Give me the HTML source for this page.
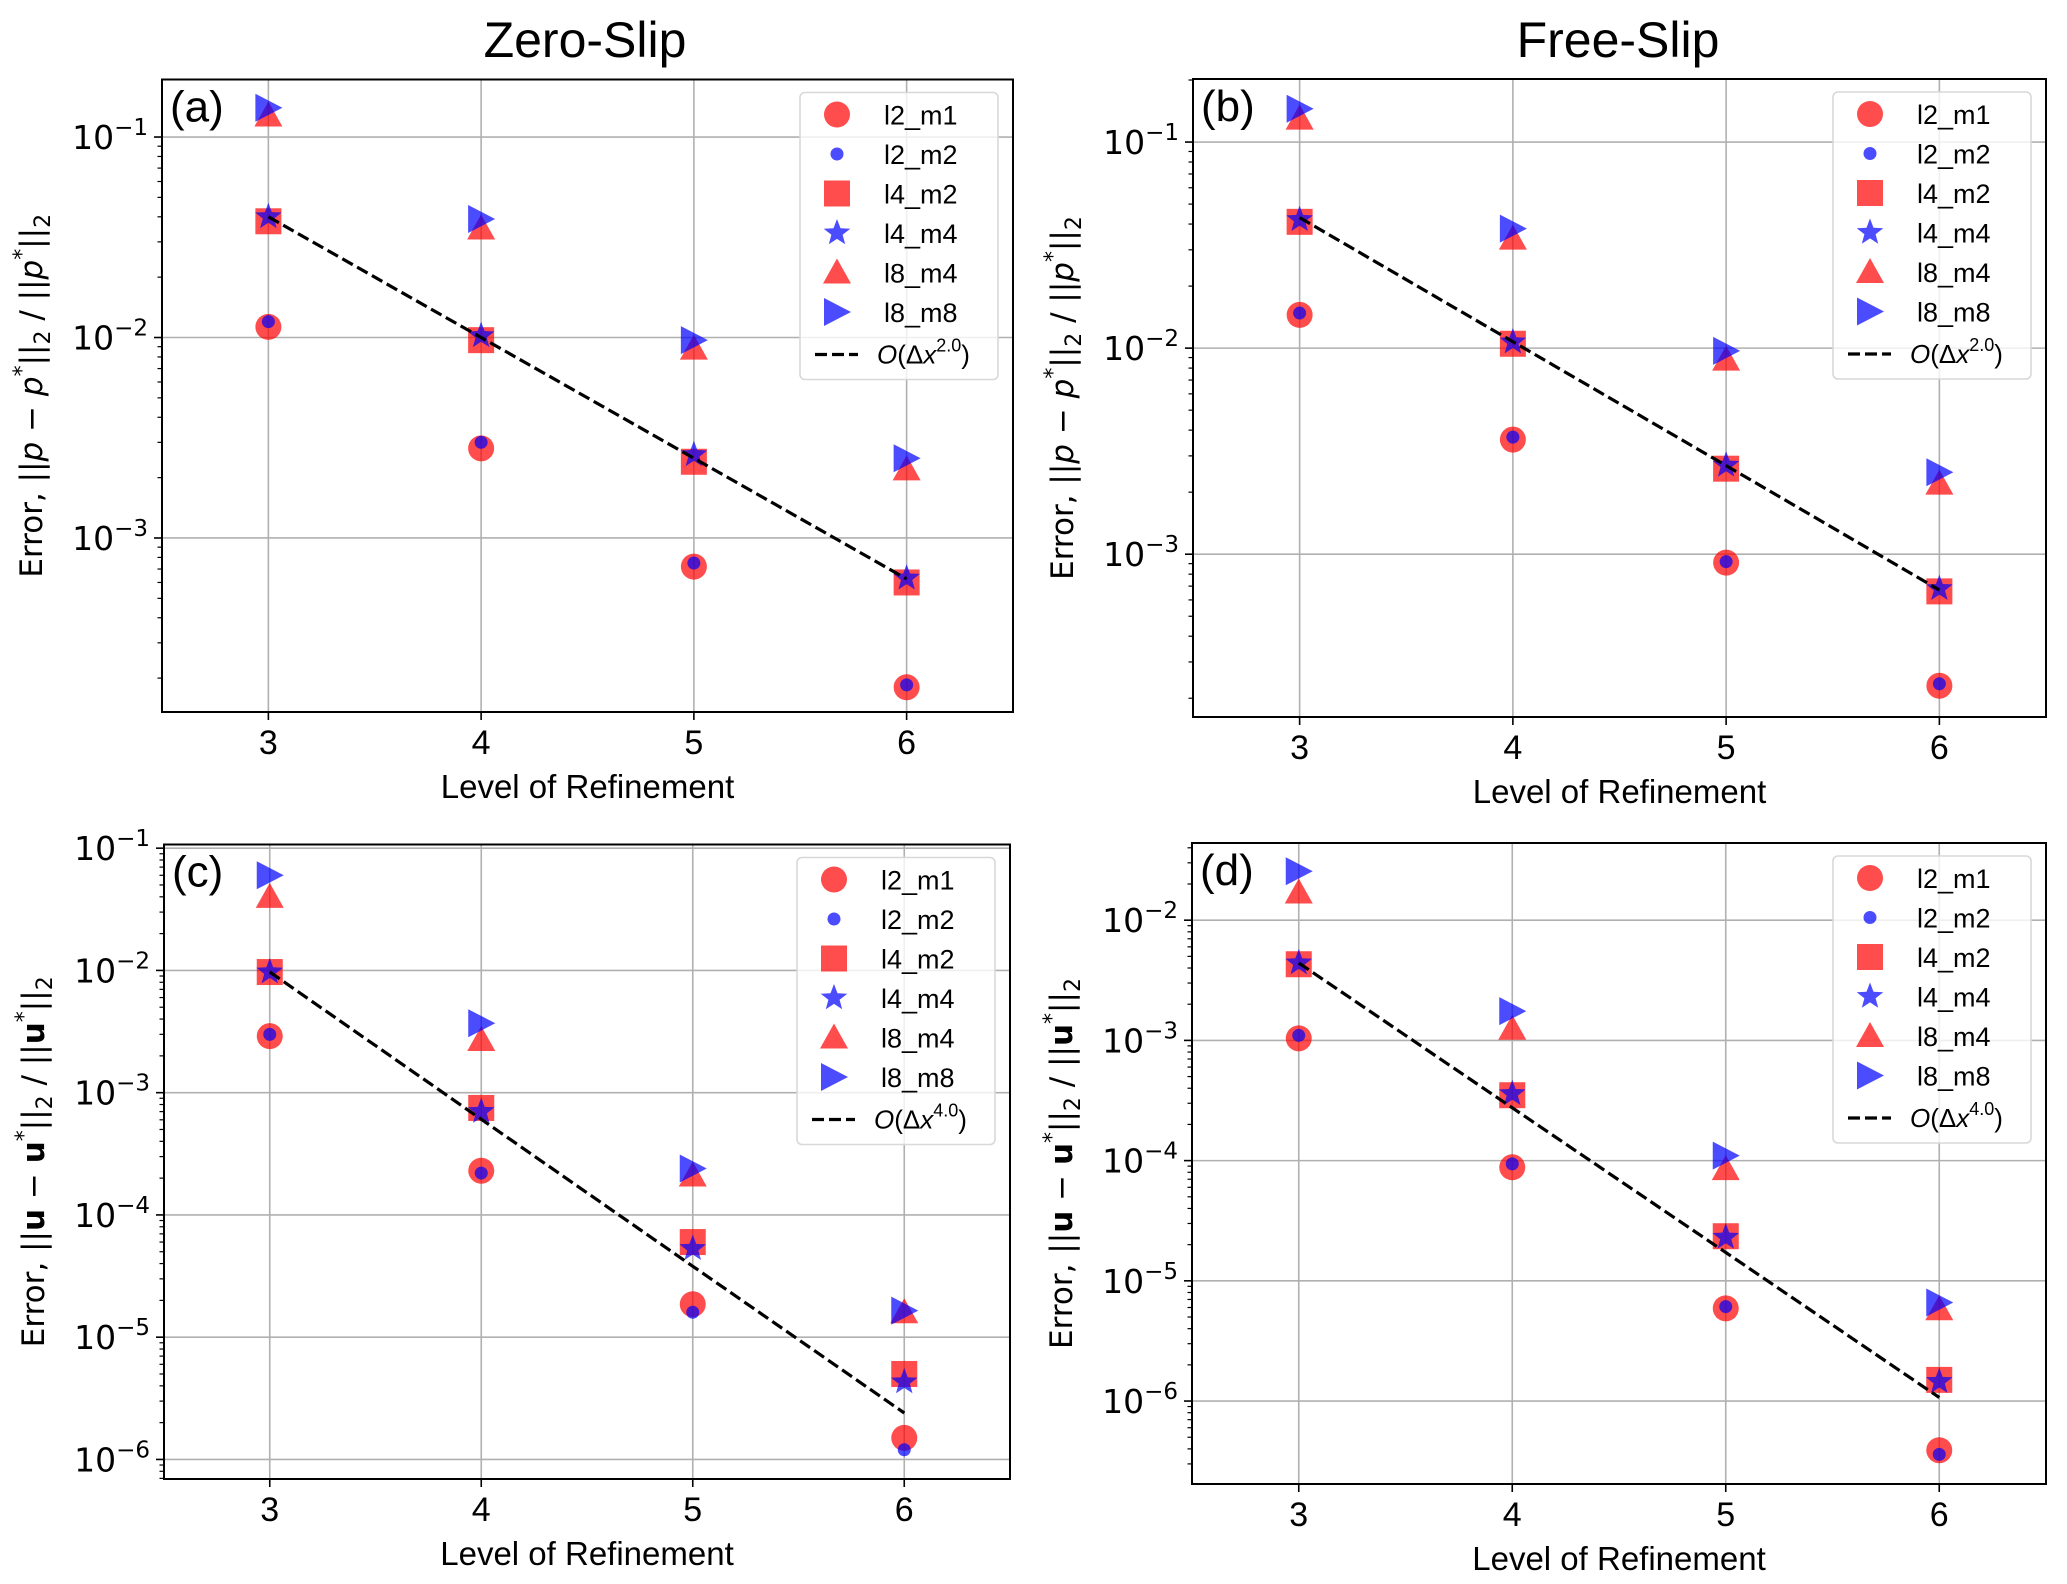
<!DOCTYPE html>
<html><head><meta charset="utf-8"><style>
html,body{margin:0;padding:0;background:#fff;}
svg{display:block;}
</style></head><body>
<svg id="fig" width="2067" height="1584" viewBox="0 0 2067 1584" xmlns="http://www.w3.org/2000/svg">
<text x="585" y="57" font-family="Liberation Sans, sans-serif" font-size="50" text-anchor="middle">Zero-Slip</text>
<text x="1618" y="57" font-family="Liberation Sans, sans-serif" font-size="50" text-anchor="middle">Free-Slip</text>
</svg>
<script>
const levels = [3, 4, 5, 6];
const seriesNames = ["l2_m1","l2_m2","l4_m2","l4_m4","l8_m4","l8_m8"];
// panel (a) zero-slip pressure
const a_l2_m1 = [0.0113, 0.0028, 7.2e-4, 1.8e-4];
const a_l2_m2 = [0.012, 0.003, 7.5e-4, 1.85e-4];
const a_l4_m2 = [0.038, 0.0097, 0.0024, 6.0e-4];
const a_l4_m4 = [0.040, 0.0102, 0.0026, 6.3e-4];
const a_l8_m4 = [0.128, 0.035, 0.0088, 0.0022];
const a_l8_m8 = [0.14, 0.039, 0.0097, 0.0025];
const a_ref = [0.04, 0.01, 0.0025, 6.25e-4];
// panel (b) free-slip pressure
const b_l2_m1 = [0.0145, 0.0036, 9.1e-4, 2.3e-4];
const b_l2_m2 = [0.0148, 0.0037, 9.2e-4, 2.35e-4];
const b_l4_m2 = [0.041, 0.0105, 0.0026, 6.6e-4];
const b_l4_m4 = [0.042, 0.0107, 0.0027, 6.8e-4];
const b_l8_m4 = [0.13, 0.034, 0.0088, 0.0022];
const b_l8_m8 = [0.145, 0.038, 0.0097, 0.0025];
const b_ref = [0.043, 0.01075, 0.00269, 6.7e-4];
// panel (c) zero-slip velocity
const c_l2_m1 = [0.0029, 2.3e-4, 1.86e-5, 1.5e-6];
const c_l2_m2 = [0.003, 2.2e-4, 1.6e-5, 1.2e-6];
const c_l4_m2 = [0.0097, 7.5e-4, 6.0e-5, 5.0e-6];
const c_l4_m4 = [0.0097, 7.0e-4, 5.3e-5, 4.3e-6];
const c_l8_m4 = [0.04, 0.0027, 2.1e-4, 1.6e-5];
const c_l8_m8 = [0.06, 0.0037, 2.4e-4, 1.65e-5];
const c_ref = [0.0097, 6.06e-4, 3.8e-5, 2.4e-6];
// panel (d) free-slip velocity
const d_l2_m1 = [1.04e-3, 8.8e-5, 5.9e-6, 3.9e-7];
const d_l2_m2 = [1.1e-3, 9.4e-5, 6.1e-6, 3.6e-7];
const d_l4_m2 = [4.3e-3, 3.5e-4, 2.35e-5, 1.5e-6];
const d_l4_m4 = [4.4e-3, 3.6e-4, 2.3e-5, 1.45e-6];
const d_l8_m4 = [0.017, 1.25e-3, 8.5e-5, 5.8e-6];
const d_l8_m8 = [0.0255, 1.75e-3, 1.1e-4, 6.6e-6];
const d_ref = [4.4e-3, 2.75e-4, 1.72e-5, 1.07e-6];
const xTickLabels = ["3","4","5","6"];

const NS = "http://www.w3.org/2000/svg";
const svg = document.getElementById('fig');
function mk(tag, attrs, parent){
  const e = document.createElementNS(NS, tag);
  for (const k in attrs) e.setAttribute(k, attrs[k]);
  (parent||svg).appendChild(e);
  return e;
}
const RED = "rgba(255,0,0,0.7)", BLUE = "rgba(0,0,255,0.7)";
function starPts(cx, cy, R){
  const r = R*0.42; let p = [];
  for (let i=0;i<10;i++){
    const ang = -Math.PI/2 + i*Math.PI/5;
    const rr = i%2===0 ? R : r;
    p.push((cx+rr*Math.cos(ang)).toFixed(1)+","+(cy+rr*Math.sin(ang)).toFixed(1));
  }
  return p.join(" ");
}
function marker(kind, cx, cy, g){
  let e;
  if (kind==="l2_m1") e = mk('circle',{cx:cx,cy:cy,r:13,fill:RED},g);
  else if (kind==="l2_m2") e = mk('circle',{cx:cx,cy:cy,r:6.5,fill:BLUE},g);
  else if (kind==="l4_m2") e = mk('rect',{x:cx-13,y:cy-13,width:26,height:26,fill:RED},g);
  else if (kind==="l4_m4") e = mk('polygon',{points:starPts(cx,cy,14),fill:BLUE},g);
  else if (kind==="l8_m4") e = mk('polygon',{points:`${cx},${cy-14} ${cx+14},${cy+11} ${cx-14},${cy+11}`,fill:RED},g);
  else e = mk('polygon',{points:`${cx+14},${cy} ${cx-13},${cy-14} ${cx-13},${cy+14}`,fill:BLUE},g);
  return e;
}

function panel(cfg){
  const g = mk('g',{});
  
  
  const X = v => cfg.L + (v-2.5)/4*(cfg.R-cfg.L);
  const Y = v => cfg.B - (Math.log10(v)-cfg.ymin)/(cfg.ymax-cfg.ymin)*(cfg.B-cfg.T);
  levels.forEach((lv,i)=>{
    const gl = mk('line',{x1:X(lv),x2:X(lv),y1:cfg.T,y2:cfg.B,stroke:"#b0b0b0","stroke-width":1.6},g);
    
    
    const tk = mk('line',{x1:X(lv),x2:X(lv),y1:cfg.B,y2:cfg.B+8,stroke:"#000","stroke-width":1.6},g);
    
    
    const tl = mk('text',{x:X(lv),y:cfg.B+42,"font-family":"Liberation Sans, sans-serif","font-size":34,"text-anchor":"middle"},g);
    tl.textContent = xTickLabels[i];
    
    
  });
  for (let d=Math.floor(cfg.ymin); d<=Math.ceil(cfg.ymax); d++){
    if (d>=cfg.ymin && d<=cfg.ymax){
      const y = Y(Math.pow(10,d));
      const gl = mk('line',{x1:cfg.L,x2:cfg.R,y1:y,y2:y,stroke:"#b0b0b0","stroke-width":1.6},g);
      
      
      const tk = mk('line',{x1:cfg.L-8,x2:cfg.L,y1:y,y2:y,stroke:"#000","stroke-width":1.6},g);
      
      
      const tl = mk('text',{x:cfg.L-14,y:y+12,"font-family":"DejaVu Sans, sans-serif","font-size":33,"text-anchor":"end"},g);
      
      
      tl.appendChild(document.createTextNode("10"));
      const sp = mk('tspan',{dy:-14,"font-size":23},tl);
      sp.textContent = "\u2212"+(-d);
    }
    for (let m=2;m<=9;m++){
      const v = m*Math.pow(10,d), lv = Math.log10(v);
      if (lv>cfg.ymin && lv<cfg.ymax){
        const y = Y(v);
        const mt = mk('line',{x1:cfg.L-4.5,x2:cfg.L,y1:y,y2:y,stroke:"#000","stroke-width":1.2},g);
        
        
      }
    }
  }
  seriesNames.forEach(s=>{
    const vals = cfg.data[s];
    vals.forEach((v,i)=>{
      const m = marker(s, X(levels[i]), Y(v), g);
      
      
    });
  });
  const pts = cfg.ref.map((v,i)=>X(levels[i]).toFixed(1)+","+Y(v).toFixed(1)).join(" ");
  const rl = mk('polyline',{points:pts,fill:"none",stroke:"#000","stroke-width":3.2,"stroke-dasharray":"12,5"},g);
  
  
  const fr = mk('rect',{x:cfg.L,y:cfg.T,width:cfg.R-cfg.L,height:cfg.B-cfg.T,fill:"none",stroke:"#000","stroke-width":2},g);
  
  
  const pl = mk('text',{x:cfg.L+8,y:cfg.T+42,"font-family":"Liberation Sans, sans-serif","font-size":44},g);
  pl.textContent = "("+cfg.id+")";
  
  
  const xl = mk('text',{x:(cfg.L+cfg.R)/2,y:cfg.B+86,"font-family":"Liberation Sans, sans-serif","font-size":33,"text-anchor":"middle"},g);
  xl.textContent = "Level of Refinement";
  
  
  const cy = (cfg.T+cfg.B)/2;
  const yl = mk('text',{x:0,y:0,transform:`translate(${cfg.L-120},${cy}) rotate(-90)`,"font-family":"DejaVu Sans, sans-serif","font-size":31,"text-anchor":"middle"},g);
  
  
  const q = cfg.vel;
  const parts = q
    ? [["Error, ||",""],["u","b"],[" \u2212 ",""],["u","b"],["*","sup"],["||",""],["2","sub"],[" / ||",""],["u","b"],["*","sup"],["||",""],["2","sub"]]
    : [["Error, ||",""],["p","i"],[" \u2212 ",""],["p","i"],["*","sup"],["||",""],["2","sub"],[" / ||",""],["p","i"],["*","sup"],["||",""],["2","sub"]];
  let shift = 0;
  parts.forEach(([t,k])=>{
    const a = {};
    let dy = 0;
    if (k==="sup"){ dy = -13-shift; shift=-13; a["font-size"]=22; }
    else if (k==="sub"){ dy = 8-shift; shift=8; a["font-size"]=22; }
    else { dy = -shift; shift=0; }
    if (dy) a.dy = dy;
    if (k==="b") a["font-weight"]="bold";
    if (k==="i") a["font-style"]="italic";
    const sp = mk('tspan',a,yl); sp.textContent = t;
  });
  const lw=198, lh=287, lx=cfg.R-15-lw, ly=cfg.T+13;
  const lg = mk('g',{},g);
  
  
  mk('rect',{x:lx,y:ly,width:lw,height:lh,rx:5,fill:"rgba(255,255,255,0.8)",stroke:"#d8d8d8","stroke-width":1.6},lg);
  const names = seriesNames.concat(["ref"]);
  names.forEach((s,i)=>{
    const ey = ly+22+i*39.5;
    const ent = mk('g',{},lg);
    
    
    if (s==="ref"){
      mk('line',{x1:lx+15,x2:lx+58,y1:ey+3,y2:ey+3,stroke:"#000","stroke-width":3.2,"stroke-dasharray":"12,5"},ent);
      const t = mk('text',{x:lx+77,y:ey+12,"font-family":"Liberation Sans, sans-serif","font-size":26},ent);
      const t1 = mk('tspan',{"font-style":"italic"},t); t1.textContent="O";
      const t2 = mk('tspan',{},t); t2.textContent="(\u0394";
      const t3 = mk('tspan',{"font-style":"italic"},t); t3.textContent="x";
      const t4 = mk('tspan',{dy:-12,"font-size":18},t); t4.textContent=cfg.order;
      const t5 = mk('tspan',{dy:12},t); t5.textContent=")";
    } else {
      marker(s, lx+37, ey, ent);
      const t = mk('text',{x:lx+84,y:ey+10,"font-family":"Liberation Sans, sans-serif","font-size":27},ent);
      t.textContent = s;
    }
  });
}

panel({id:"a",L:162,R:1013,T:79.5,B:712,ymin:-3.868,ymax:-0.713,vel:false,order:"2.0",
  data:{l2_m1:a_l2_m1,l2_m2:a_l2_m2,l4_m2:a_l4_m2,l4_m4:a_l4_m4,l8_m4:a_l8_m4,l8_m8:a_l8_m8},ref:a_ref});
panel({id:"b",L:1193,R:2046,T:79,B:717,ymin:-3.79,ymax:-0.694,vel:false,order:"2.0",
  data:{l2_m1:b_l2_m1,l2_m2:b_l2_m2,l4_m2:b_l4_m2,l4_m4:b_l4_m4,l8_m4:b_l8_m4,l8_m8:b_l8_m8},ref:b_ref});
panel({id:"c",L:164,R:1010,T:844.5,B:1479,ymin:-6.16,ymax:-0.97,vel:true,order:"4.0",
  data:{l2_m1:c_l2_m1,l2_m2:c_l2_m2,l4_m2:c_l4_m2,l4_m4:c_l4_m4,l8_m4:c_l8_m4,l8_m8:c_l8_m8},ref:c_ref});
panel({id:"d",L:1192,R:2046,T:843,B:1484,ymin:-6.69,ymax:-1.358,vel:true,order:"4.0",
  data:{l2_m1:d_l2_m1,l2_m2:d_l2_m2,l4_m2:d_l4_m2,l4_m4:d_l4_m4,l8_m4:d_l8_m4,l8_m8:d_l8_m8},ref:d_ref});
</script>
</body></html>
